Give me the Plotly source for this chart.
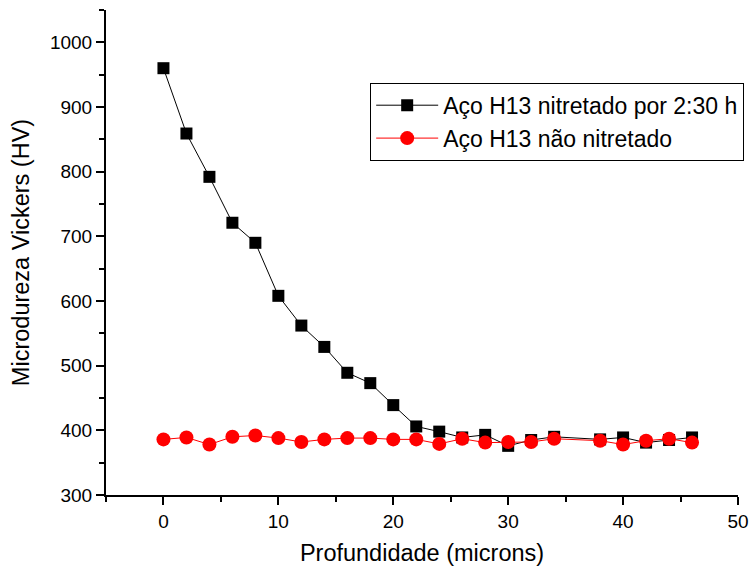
import plotly.graph_objects as go

depth_nit = [0, 2, 4, 6, 8, 10, 12, 14, 16, 18, 20, 22, 24, 26, 28, 30, 32, 34, 38, 40, 42, 44, 46]
hv_nit = [960, 859, 792, 721, 690, 608, 562, 529, 489, 473, 439, 406, 398, 389, 393, 376, 385, 390, 386, 389, 381, 385, 389]

depth_raw = [0, 2, 4, 6, 8, 10, 12, 14, 16, 18, 20, 22, 24, 26, 28, 30, 32, 34, 38, 40, 42, 44, 46]
hv_raw = [386, 389, 378, 390, 392, 388, 382, 386, 388, 388, 386, 386, 379, 387, 381, 382, 382, 387, 384, 378, 384, 387, 381]

name_nit = "Aço H13 nitretado por 2:30 h"
name_raw = "Aço H13 não nitretado"

fig = go.Figure()
fig.add_trace(go.Scatter(
    x=depth_nit, y=hv_nit, name=name_nit, mode="lines+markers",
    line=dict(color="black", width=1),
    marker=dict(symbol="square", size=12, color="black"),
))
fig.add_trace(go.Scatter(
    x=depth_raw, y=hv_raw, name=name_raw, mode="lines+markers",
    line=dict(color="red", width=1),
    marker=dict(symbol="circle", size=14, color="red"),
))

axis_common = dict(
    showline=True, linecolor="black", linewidth=2,
    ticks="outside", ticklen=8, tickwidth=2, tickcolor="black",
    showgrid=False, zeroline=False, mirror=False, automargin=False,
    tickfont=dict(family="Liberation Sans, Arial", size=19, color="black"),
)

fig.update_layout(
    width=751, height=568,
    margin=dict(l=106, r=13, t=10, b=73, autoexpand=False),
    paper_bgcolor="white", plot_bgcolor="white",
    font=dict(family="Liberation Sans, Arial", color="black"),
    xaxis=dict(
        range=[-5, 50], tick0=0, dtick=10,
        minor=dict(dtick=5, tick0=0, ticks="outside", ticklen=5, tickwidth=2, tickcolor="black"),
        title=dict(text="Profundidade (microns)", font=dict(size=23.5), standoff=14),
        **axis_common,
    ),
    yaxis=dict(
        range=[300, 1050], tick0=300, dtick=100,
        minor=dict(dtick=50, tick0=300, ticks="outside", ticklen=5, tickwidth=2, tickcolor="black"),
        title=dict(text="Microdureza Vickers (HV)", font=dict(size=23.5), standoff=14),
        **axis_common,
    ),
    legend=dict(
        x=0.418, y=0.85, xanchor="left", yanchor="top",
        bgcolor="white", bordercolor="black", borderwidth=1,
        font=dict(size=23, color="black"),
        itemwidth=62,
    ),
    showlegend=True,
)

fig.write_html(
    "out.html",
    config={"displayModeBar": False},
    post_script="document.body.style.margin='0px';document.body.style.overflow='hidden';",
)
